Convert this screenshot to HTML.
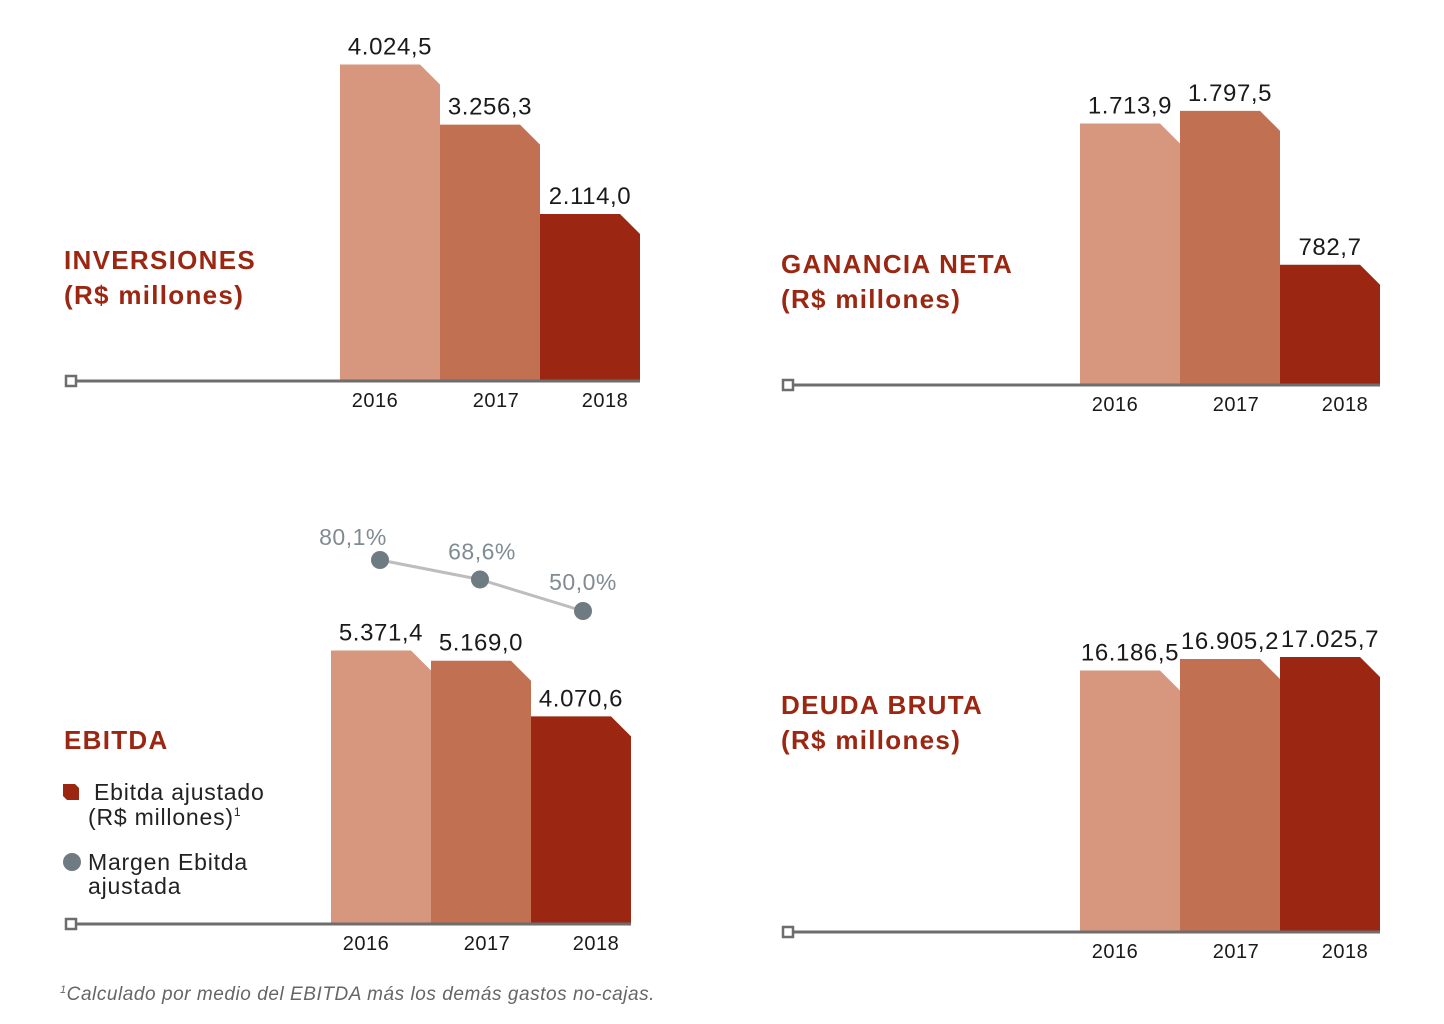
<!DOCTYPE html>
<html><head><meta charset="utf-8"><style>
body{margin:0;background:#fff;}
svg{display:block;font-family:"Liberation Sans",sans-serif;}
</style></head><body>
<svg id="c" width="1444" height="1024" viewBox="0 0 1444 1024">
<g font-weight="bold" font-size="26" fill="#9b2611" letter-spacing="1.3">
<text x="64" y="269">INVERSIONES</text>
<text x="64" y="304">(R$ millones)</text>
<text x="781" y="273">GANANCIA NETA</text>
<text x="781" y="308">(R$ millones)</text>
<text x="64" y="749">EBITDA</text>
<text x="781" y="714">DEUDA BRUTA</text>
<text x="781" y="749">(R$ millones)</text>
</g>
<g font-size="23" fill="#222" letter-spacing="0.8">
<path d="M63 784h12l4 4v12H67l-4-4z" fill="#9b2611"/>
<text x="94" y="800">Ebitda ajustado</text>
<text x="88" y="825">(R$ millones)<tspan font-size="12" dy="-9">1</tspan></text>
<circle cx="72" cy="862" r="9" fill="#6f7b82"/>
<text x="88" y="870">Margen Ebitda</text>
<text x="88" y="894">ajustada</text>
</g>
<text x="60" y="1000" font-size="19" font-style="italic" fill="#666" letter-spacing="0.55"><tspan font-size="11" dy="-7">1</tspan><tspan dy="7">Calculado por medio del EBITDA más los demás gastos no-cajas.</tspan></text>
</svg>
<script>
const years = ["2016","2017","2018"];
const invValues = [4024.5, 3256.3, 2114.0];
const invLabels = ["4.024,5","3.256,3","2.114,0"];
const ganValues = [1713.9, 1797.5, 782.7];
const ganLabels = ["1.713,9","1.797,5","782,7"];
const ebitdaValues = [5371.4, 5169.0, 4070.6];
const ebitdaLabels = ["5.371,4","5.169,0","4.070,6"];
const deudaValues = [16186.5, 16905.2, 17025.7];
const deudaLabels = ["16.186,5","16.905,2","17.025,7"];
const margenValues = [80.1, 68.6, 50.0];
const margenLabels = ["80,1%","68,6%","50,0%"];

const NS="http://www.w3.org/2000/svg";
const svg=document.getElementById('c');
const colors=["#d6977e","#c17152","#9b2611"];
function mk(tag,attrs,parent){const e=document.createElementNS(NS,tag);for(const k in attrs)e.setAttribute(k,attrs[k]);(parent||svg).appendChild(e);return e;}

function chart(key,vals,labels,x0,base,scale,axisStart,yearX){
  const g=mk('g',{});
  
  
  const ax=mk('line',{x1:axisStart,y1:base,x2:x0+300,y2:base,stroke:'#6d6d6d','stroke-width':3},g);
  
  
  const sq=mk('rect',{x:axisStart-5,y:base-5,width:10,height:10,fill:'#fff',stroke:'#6d6d6d','stroke-width':2.5},g);
  
  
  vals.forEach((v,i)=>{
    const x=x0+i*100,h=v*scale,t=base-h-1.5;
    const p=mk('path',{d:`M${x} ${base-1.5}V${t}H${x+80}L${x+100} ${t+20}V${base-1.5}Z`,fill:colors[i]},g);
    
    
    const lt=mk('text',{x:x+50,y:t-10,'text-anchor':'middle','font-size':24,'letter-spacing':0.6,fill:'#1a1a1a'},g);
    lt.textContent=labels[i];
    
    
    const yt=mk('text',{x:yearX[i],y:base+26,'text-anchor':'middle','font-size':20,'letter-spacing':0.5,fill:'#1a1a1a'},g);
    yt.textContent=years[i];
    
    
  });
}
chart('inversiones',invValues,invLabels,340,381,315/4024.5,71,[375,496,605]);
chart('ganancia',ganValues,ganLabels,1080,385,260/1713.9,788,[1115,1236,1345]);
chart('ebitda',ebitdaValues,ebitdaLabels,331,924,272/5371.4,71,[366,487,596]);
chart('deuda',deudaValues,deudaLabels,1080,932,260/16186.5,788,[1115,1236,1345]);

// margin line
const mx=[380,480,583];
const labelDx=[-27,2,0];
const labelDy=[-15,-20,-21];
const my=v=>560+(80.1-v)*(51/30.1);
const pts=margenValues.map((v,i)=>mx[i]+','+my(v)).join(' ');
const pl=mk('polyline',{points:pts,fill:'none',stroke:'#bdbdbd','stroke-width':3});


margenValues.forEach((v,i)=>{
  const c=mk('circle',{cx:mx[i],cy:my(v),r:9,fill:'#6f7b82'});
  
  
  const t=mk('text',{x:mx[i]+labelDx[i],y:my(v)+labelDy[i],'text-anchor':'middle','font-size':23,'letter-spacing':0.5,fill:'#808c92'});
  t.textContent=margenLabels[i];
  
  
});
</script>
</body></html>
